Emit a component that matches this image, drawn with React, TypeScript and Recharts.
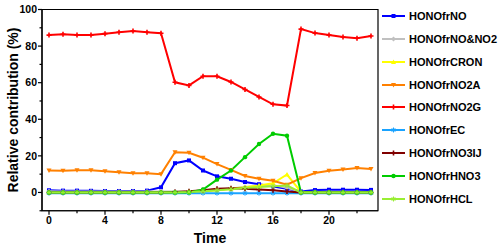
import React from 'react';
import { LineChart, Line, XAxis, YAxis, Legend, ReferenceArea } from 'recharts';

const hours = [0,1,2,3,4,5,6,7,8,9,10,11,12,13,14,15,16,17,18,19,20,21,22,23];
const frNO = [1.2,1.0,1.0,0.9,0.8,0.8,0.8,1.0,2.8,16,17.5,12,8.8,7.5,5.7,4.5,3.3,2.0,0.5,1.3,1.5,1.5,1.5,1.4];
const frNONO2 = [0.6,0.5,0.5,0.5,0.5,0.5,0.5,0.5,0.5,0.5,0.5,0.8,1.5,2.2,3.0,3.5,4.0,2.5,0.3,0.3,0.3,0.3,0.3,0.3];
const frCRON = [0,0,0,0,0,0,0,0,0,0,0.2,0.5,1.2,2.0,2.8,3.8,5.0,9.8,0.3,0,0,0,0,0];
const frNO2A = [12,11.8,12.2,12.1,11.6,11,10.5,10.5,10,22,21.7,19,15.5,12.3,9,7.5,6.4,4.2,7.8,10.6,11.9,12.6,13.3,12.8];
const frNO2G = [86,86.5,86,86,86.8,87.6,88.2,87.6,87,60.2,58.5,63.5,63.5,60.4,56.3,52.2,48.2,47.5,89.3,87.1,86,85,84.3,85.5];
const frEC = [-0.4,-0.4,-0.4,-0.4,-0.4,-0.4,-0.4,-0.4,-0.4,-0.4,-0.4,-0.4,-0.4,-0.4,-0.4,-0.4,-0.4,-0.4,-0.4,-0.4,-0.4,-0.4,-0.4,-0.4];
const frNO3IJ = [0,0,0,0,0,0,0,0,0,0.3,0.6,1.2,2.0,2.3,2.0,1.6,1.2,0.5,0,0,0,0,0,0];
const frHNO3 = [0,0,0,0,0,0,0,0,0,0,0,1.6,7,12,19.3,26.5,32.1,31,0,0,0,0,0,0];
const frHCL = [0,0,0,0,0,0,0,0,0,0,0.2,0.6,1.2,1.8,2.5,3.0,3.4,3.8,0,0,0,0,0,0];

const xTicks = [0,2,4,6,8,10,12,14,16,18,20,22];
const yTicks = [-10,0,10,20,30,40,50,60,70,80,90,100];

const series = [
  { key: 'HONOfrNO', values: frNO, color: '#0000FF', shape: 'square' },
  { key: 'HONOfrNO&NO2', values: frNONO2, color: '#C0C0C0', shape: 'diamond' },
  { key: 'HONOfrCRON', values: frCRON, color: '#FFFF00', shape: 'triUp' },
  { key: 'HONOfrNO2A', values: frNO2A, color: '#FF8000', shape: 'triDown' },
  { key: 'HONOfrNO2G', values: frNO2G, color: '#FF0000', shape: 'plus' },
  { key: 'HONOfrEC', values: frEC, color: '#1AA3FF', shape: 'star' },
  { key: 'HONOfrNO3IJ', values: frNO3IJ, color: '#800000', shape: 'plus' },
  { key: 'HONOfrHNO3', values: frHNO3, color: '#00CC00', shape: 'circle' },
  { key: 'HONOfrHCL', values: frHCL, color: '#99EE33', shape: 'star' },
];

const data = hours.map((h, i) => {
  const row: any = { h };
  series.forEach((s) => { row[s.key] = s.values[i]; });
  return row;
});

const FONT = "'Liberation Sans', Arial, sans-serif";

function Marker({ cx, cy, shape, color }: any) {
  const s = 2;
  switch (shape) {
    case 'square':
      return <rect x={cx - s} y={cy - s} width={2 * s} height={2 * s} fill={color} />;
    case 'diamond':
      return <path d={`M${cx} ${cy - s - 0.5}L${cx + s + 0.5} ${cy}L${cx} ${cy + s + 0.5}L${cx - s - 0.5} ${cy}Z`} fill={color} />;
    case 'triUp':
      return <path d={`M${cx} ${cy - 2.5}L${cx + 2.5} ${cy + 2}L${cx - 2.5} ${cy + 2}Z`} fill={color} />;
    case 'triDown':
      return <path d={`M${cx} ${cy + 2.5}L${cx + 2.5} ${cy - 2}L${cx - 2.5} ${cy - 2}Z`} fill={color} />;
    case 'plus':
      return <path d={`M${cx - 2.5} ${cy}H${cx + 2.5}M${cx} ${cy - 2.5}V${cy + 2.5}`} stroke={color} strokeWidth={1.6} />;
    case 'star':
      return <path d={`M${cx - 2.5} ${cy}H${cx + 2.5}M${cx} ${cy - 2.5}V${cy + 2.5}M${cx - 1.8} ${cy - 1.8}L${cx + 1.8} ${cy + 1.8}M${cx - 1.8} ${cy + 1.8}L${cx + 1.8} ${cy - 1.8}`} stroke={color} strokeWidth={1} />;
    default:
      return <circle cx={cx} cy={cy} r={2.2} fill={color} />;
  }
}

function XTick(props: any) {
  const { x, y, payload } = props;
  const major = payload.value % 4 === 0;
  return (
    <g>
      <line x1={x} x2={x} y1={y} y2={y + (major ? 4 : 2.5)} stroke="#000" strokeWidth={1.2} />
      {major && (
        <text x={x} y={y + 13} textAnchor="middle" fontFamily={FONT} fontWeight="bold" fontSize={10.5} fill="#000">
          {payload.value}
        </text>
      )}
    </g>
  );
}

function YTick(props: any) {
  const { x, y, payload } = props;
  const major = payload.value % 20 === 0;
  return (
    <g>
      <line x1={x - (major ? 4 : 2.5)} x2={x} y1={y} y2={y} stroke="#000" strokeWidth={1.2} />
      {major && (
        <text x={x - 5} y={y} dy="0.36em" textAnchor="end" fontFamily={FONT} fontWeight="bold" fontSize={10.5} fill="#000">
          {payload.value}
        </text>
      )}
    </g>
  );
}

function LegendContent() {
  return (
    <div style={{ fontFamily: FONT, fontWeight: 'bold', fontSize: 11, color: '#000' }}>
      {series.map((s) => (
        <div key={s.key} style={{ height: 22.8, display: 'flex', alignItems: 'center' }}>
          <svg width={27} height={10} style={{ display: 'block' }}>
            <line x1={0} x2={23} y1={5} y2={5} stroke={s.color} strokeWidth={2} />
            <Marker cx={11.5} cy={5} shape={s.shape} color={s.color} />
          </svg>
          <span style={{ whiteSpace: 'nowrap' }}>{s.key}</span>
        </div>
      ))}
    </div>
  );
}

export default function App() {
  return (
    <div style={{ position: 'absolute', left: 0, top: 0, background: '#fff' }}>
      <LineChart width={500} height={249} data={data} margin={{ top: 9.5, right: 122, bottom: 18.25, left: 12 }}>
        <XAxis
          dataKey="h"
          type="number"
          domain={[-0.5, 23.5]}
          ticks={xTicks}
          interval={0}
          tickSize={0}
          tickMargin={0}
          tick={<XTick />}
          height={20}
          axisLine={{ stroke: '#000', strokeWidth: 1.2 }}
          tickLine={false}
          label={{
            content: () => (
              <text x={210} y={243} textAnchor="middle" fontFamily={FONT} fontWeight="bold" fontSize={14} fill="#000">
                Time
              </text>
            ),
          }}
        />
        <YAxis
          type="number"
          domain={[-10, 100]}
          ticks={yTicks}
          interval={0}
          tickSize={0}
          tickMargin={0}
          tick={<YTick />}
          width={30}
          axisLine={{ stroke: '#000', strokeWidth: 1.2 }}
          tickLine={false}
          allowDataOverflow
          label={{
            content: () => (
              <text
                x={13}
                y={110}
                transform="rotate(-90 13 110)"
                textAnchor="middle"
                dominantBaseline="central"
                fontFamily={FONT}
                fontWeight="bold"
                fontSize={14}
                fill="#000"
              >
                Relative contribution (%)
              </text>
            ),
          }}
        />
        <ReferenceArea x1={-0.5} x2={23.5} y1={-10} y2={100} fill="none" stroke="#000" strokeWidth={1.2} ifOverflow="visible" />
        {series.map((s) => (
          <Line
            key={s.key}
            dataKey={s.key}
            type="linear"
            stroke={s.color}
            strokeWidth={2}
            isAnimationActive={false}
            dot={(p: any) => <Marker key={`${s.key}-${p.index}`} cx={p.cx} cy={p.cy} shape={s.shape} color={s.color} />}
            activeDot={false}
          />
        ))}
        <Legend
          content={<LegendContent />}
          layout="vertical"
          verticalAlign="middle"
          align="center"
          wrapperStyle={{ position: 'absolute', left: 382, top: 4.8, width: 118 }}
        />
      </LineChart>
    </div>
  );
}
